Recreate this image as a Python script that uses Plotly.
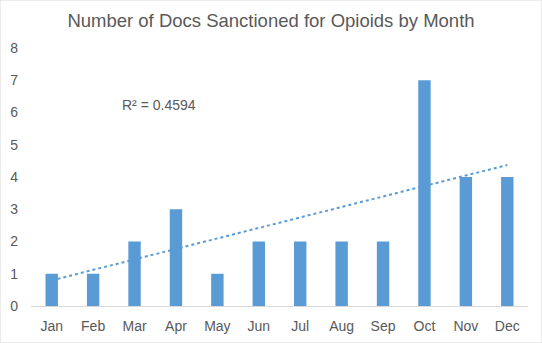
import numpy as np
import plotly.graph_objects as go

months = ["Jan", "Feb", "Mar", "Apr", "May", "Jun", "Jul", "Aug", "Sep", "Oct", "Nov", "Dec"]
docs_sanctioned = [1, 1, 2, 3, 1, 2, 2, 2, 2, 7, 4, 4]
y_ticks = [0, 1, 2, 3, 4, 5, 6, 7, 8]

x_idx = np.arange(len(months))
y = np.array(docs_sanctioned, dtype=float)

# linear trend line and its R²
slope, intercept = np.polyfit(x_idx + 1, y, 1)
fit = slope * (x_idx + 1) + intercept
r2 = 1 - np.sum((y - fit) ** 2) / np.sum((y - y.mean()) ** 2)

BLUE = "#5B9BD5"
GREY = "#595959"
FONT = "Liberation Sans, Arial, sans-serif"

fig = go.Figure()
fig.add_trace(go.Bar(x=x_idx, y=y, marker=dict(color=BLUE, line=dict(width=0)),
                     width=0.3, showlegend=False))
fig.add_trace(go.Scatter(x=x_idx, y=fit, mode="lines",
                         line=dict(color=BLUE, width=2, dash="dot"), showlegend=False))

fig.add_annotation(x=1.65, y=6.23, xref="x", yref="y", xanchor="left", yanchor="middle",
                   text=f"R² = {r2:.4f}", showarrow=False,
                   font=dict(family=FONT, size=14, color=GREY))

fig.update_layout(
    width=542, height=343,
    margin=dict(l=31, r=14, t=48, b=37),
    paper_bgcolor="white", plot_bgcolor="white",
    title=dict(text="Number of Docs Sanctioned for Opioids by Month",
               x=0.5, xanchor="center", y=1 - 21 / 343, yanchor="middle",
               font=dict(family=FONT, size=18.5, color=GREY)),
    font=dict(family=FONT, size=14, color=GREY),
    bargap=0.7,
)
fig.update_xaxes(range=[-0.5, 11.5], tickvals=list(x_idx), ticktext=months,
                 showgrid=False, zeroline=False, showline=True, linecolor="#D9D9D9",
                 linewidth=1, ticks="", ticklen=0, ticklabelstandoff=7, automargin=False,
                 tickfont=dict(size=14, color=GREY))
fig.update_yaxes(range=[0, 8], tickvals=y_ticks, showgrid=False, zeroline=False,
                 showline=False, ticks="", ticklabelstandoff=12, automargin=False,
                 tickfont=dict(size=14, color=GREY))

# outer chart border
fig.add_shape(type="rect", xref="paper", yref="paper",
              x0=-31 / 497, x1=1 + 14 / 497, y0=-37 / 258, y1=1 + 48 / 258,
              line=dict(color="#D9D9D9", width=1), layer="above")

fig.write_html("out.html")
